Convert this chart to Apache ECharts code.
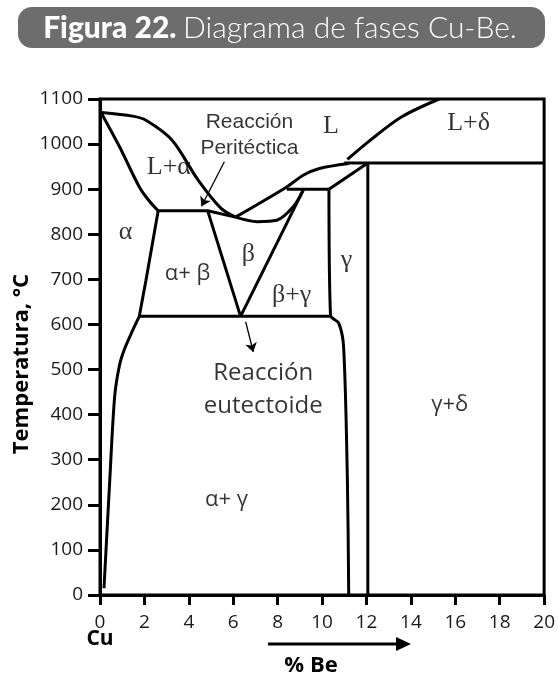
<!DOCTYPE html>
<html>
<head>
<meta charset="utf-8">
<script src="https://cdn.jsdelivr.net/npm/echarts@6/dist/echarts.min.js"></script>
<style>
  html, body { margin: 0; padding: 0; background: #fff; }
  #chart { width: 558px; height: 678px; }
</style>
</head>
<body>
<div id="chart"></div>
<script>
// tick labels
const xTicks = [0, 2, 4, 6, 8, 10, 12, 14, 16, 18, 20];
const yTicks = [0, 100, 200, 300, 400, 500, 600, 700, 800, 900, 1000, 1100];

// phase boundaries, [% Be, °C]
const liquidusAlpha = [[0.07, 1070], [1.47, 1062], [2.07, 1053], [3.24, 1009], [4.42, 920], [5.44, 858], [6.1, 838]];
const solidusAlpha = [[0.07, 1068], [0.88, 994], [1.77, 905], [2.2, 875], [2.62, 852]];
const peritectic = [[2.62, 852], [4.85, 852], [6.1, 838]];
const betaTop = [[6.1, 838], [7.08, 828], [7.96, 831], [8.7, 861], [9.15, 898]];
const liquidusBeta = [[6.1, 838], [8.41, 905], [9.15, 931], [9.88, 946], [11.2, 957]];
const line955 = [[11.0, 958], [20, 958]];
const liquidusDelta = [[11.14, 966], [12.08, 1005], [13.57, 1060], [15.27, 1100]];
const line900 = [[8.41, 900], [10.31, 900]];
const gammaTop = [[10.31, 900], [12.06, 958]];
const line12 = [[12.06, 958], [12.06, 0]];
const solvusGamma = [[10.31, 900], [10.38, 620], [10.75, 603], [10.97, 550], [11.14, 255], [11.2, 0]];
const eutectoid = [[1.77, 618], [10.38, 618]];
const betaLeft = [[4.85, 852], [6.33, 618]];
const betaRight = [[6.33, 618], [9.15, 898]];
const solvusAlphaHigh = [[2.62, 852], [2.07, 698], [1.77, 618]];
const solvusAlphaLow = [[1.77, 618], [1.47, 587], [1.1, 545], [0.88, 510], [0.66, 440], [0.44, 255], [0.18, 15]];

// region labels [x, T, text]
const serifLabels = [
  [10.4, 1040, 'L'], [16.6, 1046, 'L+δ'], [3.1, 949, 'L+α'], [1.15, 805, 'α'],
  [6.68, 756, 'β'], [8.63, 665, 'β+γ'], [11.1, 743, 'γ']
];
const sansLabels = [
  [3.94, 712, 'α+ β'], [15.75, 423, 'γ+δ'], [5.7, 211, 'α+ γ']
];
const noteLabels = [
  [6.73, 1020, 'Reacción\nPeritéctica']
];
const eutLabels = [
  [7.35, 456, 'Reacción\neutectoide']
];
// arrows [from, to]
const arrows = [
  [[5.6, 961], [4.57, 862]],
  [[6.56, 606], [6.9, 539]]
];

const curves = [liquidusAlpha, solidusAlpha, betaTop, liquidusBeta, liquidusDelta, solvusGamma, solvusAlphaLow];
const straight = [peritectic, line955, line900, gammaTop, line12, eutectoid, betaLeft, betaRight, solvusAlphaHigh];

const chart = echarts.init(document.getElementById('chart'));
const boundary = (d, smooth) => ({
  type: 'line', data: d, showSymbol: false, smooth: smooth ? 0.3 : false, silent: true,
  lineStyle: { color: '#000', width: 3 }, z: 3
});
const labelSeries = (d, font, size, lh) => ({
  type: 'scatter', data: d, symbolSize: 0, silent: true, z: 5,
  label: {
    show: true, position: 'inside', formatter: p => p.data[2],
    fontFamily: font, fontSize: size, color: '#000', lineHeight: lh || size * 1.25
  }
});
const tickFmt = v => String(v);

chart.setOption({
  animation: false,
  grid: { left: 100, right: 6, top: 99, bottom: 83, show: true, borderColor: '#000', borderWidth: 3 },
  xAxis: {
    type: 'value', min: xTicks[0], max: xTicks[xTicks.length - 1], interval: 2,
    axisLine: { lineStyle: { color: '#000', width: 3 } },
    axisTick: { length: 10, lineStyle: { color: '#000', width: 3 } },
    axisLabel: { margin: 18, fontFamily: 'Open Sans', fontSize: 19, color: '#1a1a1a', formatter: tickFmt },
    splitLine: { show: false }
  },
  yAxis: {
    type: 'value', min: yTicks[0], max: yTicks[yTicks.length - 1], interval: 100,
    axisLine: { lineStyle: { color: '#000', width: 3 } },
    axisTick: { length: 12, lineStyle: { color: '#000', width: 3 } },
    axisLabel: { margin: 17, fontFamily: 'Open Sans', fontSize: 19, color: '#1a1a1a', formatter: tickFmt },
    splitLine: { show: false }
  },
  graphic: [
    { type: 'rect', shape: { x: 18, y: 7, width: 527, height: 41, r: 14 }, style: { fill: '#6d6d6d' } },
    {
      type: 'text', x: 280, y: 28,
      style: {
        text: '{b|Figura 22.}  {r|Diagrama de fases Cu-Be.}', align: 'center', verticalAlign: 'middle',
        rich: {
          b: { fontFamily: 'Lato', fontWeight: 900, fontSize: 30, fill: '#fff' },
          r: { fontFamily: 'Lato', fontWeight: 300, fontSize: 30, fill: '#fff' }
        }
      }
    },
    {
      type: 'text', x: 22, y: 364, rotation: Math.PI / 2,
      style: { text: 'Temperatura, °C', align: 'center', verticalAlign: 'middle', fontFamily: 'Open Sans', fontWeight: 'bold', fontSize: 22, fill: '#000' }
    },
    { type: 'text', x: 100, y: 639, style: { text: 'Cu', align: 'center', verticalAlign: 'middle', fontFamily: 'Open Sans', fontWeight: 'bold', fontSize: 21, fill: '#000' } },
    { type: 'text', x: 311, y: 666, style: { text: '% Be', align: 'center', verticalAlign: 'middle', fontFamily: 'Open Sans', fontWeight: 'bold', fontSize: 22, fill: '#000' } },
    { type: 'line', shape: { x1: 268, y1: 644, x2: 398, y2: 644 }, style: { stroke: '#000', lineWidth: 3 } },
    { type: 'polygon', shape: { points: [[396, 637], [411, 644], [396, 651]] }, style: { fill: '#000' } }
  ],
  series: [
    ...curves.map(d => boundary(d, true)),
    ...straight.map(d => boundary(d, false)),
    {
      type: 'lines', coordinateSystem: 'cartesian2d', silent: true, z: 4,
      symbol: ['none', 'arrow'], symbolSize: 9,
      lineStyle: { color: '#000', width: 1.3, opacity: 1 },
      data: arrows.map(a => ({ coords: a }))
    },
    labelSeries(serifLabels, 'Liberation Serif', 26),
    labelSeries(sansLabels, 'Open Sans', 22),
    labelSeries(noteLabels, 'Liberation Sans', 21, 26),
    labelSeries(eutLabels, 'Open Sans', 24, 33)
  ]
});
</script>
</body>
</html>
